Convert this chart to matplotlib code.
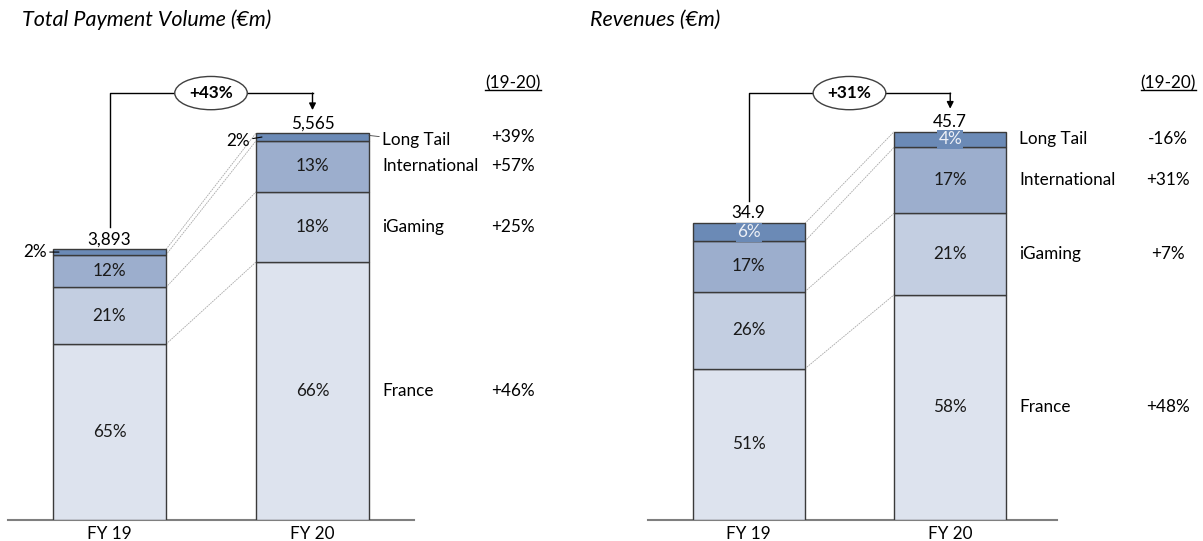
import numpy as np
import matplotlib.pyplot as plt
from matplotlib.lines import Line2D

plt.rcParams['font.family'] = ['Lato', 'DejaVu Sans']

# ---- data ----
years = ["FY 19", "FY 20"]
segments = ["France", "iGaming", "International", "Long Tail"]
seg_colors = ["#dde3ee", "#c3cee1", "#9caecd", "#6b8ab6"]

tpv_totals = [3893, 5565]
tpv_shares = [[65, 21, 12, 2], [66, 18, 13, 2]]
tpv_growth = ["+46%", "+25%", "+57%", "+39%"]
tpv_change = "+43%"

rev_totals = [34.9, 45.7]
rev_shares = [[51, 26, 17, 6], [58, 21, 17, 4]]
rev_growth = ["+48%", "+7%", "+31%", "-16%"]
rev_change = "+31%"

PT = 0.72  # points per pixel at dpi 100
FS = 12.3


def draw_panel(ax, totals, shares, growth, change, fmt, ymax, tail_outside, growth_dx):
    x = np.arange(2)
    w = 0.557
    ax.set_xlim(-0.5, 1.5 if tail_outside else 1.53)
    ax.set_ylim(0, ymax)
    px = ymax / 520.0

    bottoms = np.zeros(2)
    bounds = []
    for i, seg in enumerate(segments):
        vals = np.array([totals[j] * shares[j][i] / sum(shares[j]) for j in range(2)])
        ax.bar(x, vals, w, bottom=bottoms, color=seg_colors[i],
               edgecolor="#3a3a3a", linewidth=1, zorder=3)
        centers = bottoms + vals / 2
        for j in range(2):
            lab = f"{shares[j][i]}%"
            if i == 3 and tail_outside:
                dy = 0 if j == 0 else -4
                ax.annotate(lab, xy=(x[j] - w / 2 + 6 * w / 113, centers[j]),
                            xytext=(-12 * PT, dy * PT), textcoords="offset points",
                            ha="right", va="center", fontsize=FS, zorder=5,
                            arrowprops=dict(arrowstyle="-", lw=0.8, color="black",
                                            shrinkA=0, shrinkB=0))
            elif i == 3:
                ax.text(x[j], centers[j], lab, ha="center", va="center",
                        fontsize=FS, color="#eef1f7", zorder=5,
                        bbox=dict(boxstyle="square,pad=0.08", fc=seg_colors[i], ec="none"))
            else:
                ax.text(x[j], centers[j], lab, ha="center", va="center",
                        fontsize=FS, color="#1a1a1a", zorder=5)
        # segment names and growth to the right of FY20
        if i == 3 and tail_outside:
            ax.annotate(seg, xy=(x[1] + w / 2, bottoms[1] + vals[1] * 0.7),
                        xytext=(13 * PT, -5 * PT), textcoords="offset points",
                        ha="left", va="center", fontsize=FS,
                        arrowprops=dict(arrowstyle="-", lw=0.6, color="#404040",
                                        shrinkA=0, shrinkB=0))
        else:
            ax.annotate(seg, xy=(x[1] + w / 2, centers[1]),
                        xytext=(13 * PT, 0), textcoords="offset points",
                        ha="left", va="center", fontsize=FS)
        ax.annotate(growth[i], xy=(x[1] + w / 2, centers[1]),
                    xytext=(growth_dx * PT, 0), textcoords="offset points",
                    ha="center", va="center", fontsize=FS)
        bottoms = bottoms + vals
        bounds.append(bottoms.copy())

    period = ax.annotate("(19-20)", xy=(x[1] + w / 2, ymax * 0.84), xytext=(growth_dx * PT, 0),
                         textcoords="offset points", ha="center", va="center", fontsize=FS)

    # connectors between bars
    for b in bounds:
        ax.plot([x[0] + w / 2, x[1] - w / 2], [b[0], b[1]], color="#a8a8a8",
                lw=0.6, ls=(0, (2, 1)), zorder=1)

    # totals
    for j in range(2):
        ax.annotate(fmt(totals[j]), xy=(x[j], totals[j]), xytext=(0, 2 * PT),
                    textcoords="offset points", ha="center", va="bottom", fontsize=FS)

    # growth bracket
    yb = ymax * 0.821
    ax.plot([x[0], x[0], x[1]], [totals[0] + 22 * px, yb, yb], color="black", lw=1, zorder=2)
    ax.annotate("", xy=(x[1], totals[1] + 23 * px), xytext=(x[1], yb),
                arrowprops=dict(arrowstyle="-|>", color="black", lw=1,
                                mutation_scale=10, shrinkA=0, shrinkB=0))
    ax.text(0.5, yb, change, ha="center", va="center", fontsize=FS, fontweight="bold",
            bbox=dict(boxstyle="ellipse,pad=0.22", fc="white", ec="#404040", lw=1), zorder=6)

    for s in ["top", "left", "right"]:
        ax.spines[s].set_visible(False)
    ax.spines["bottom"].set_color("#7f7f7f")
    ax.spines["bottom"].set_linewidth(1.5)
    ax.set_yticks([])
    ax.set_xticks(x, years)
    ax.tick_params(axis="x", length=0, pad=4, labelsize=FS)
    return period


fig = plt.figure(figsize=(12.03, 5.41), dpi=100)
ax1 = fig.add_axes([8 / 1203, 21 / 541, 406 / 1203, 520 / 541])
ax2 = fig.add_axes([648 / 1203, 21 / 541, 409 / 1203, 520 / 541])
ax1.patch.set_alpha(0)
ax2.patch.set_alpha(0)

p1 = draw_panel(ax1, tpv_totals, tpv_shares, tpv_growth, tpv_change,
                lambda v: f"{v:,.0f}", 7480, True, 144)
p2 = draw_panel(ax2, rev_totals, rev_shares, rev_growth, rev_change,
                lambda v: f"{v:.1f}", 61.2, False, 162)

fig.text(22 / 1203, 1 - 20 / 541, "Total Payment Volume (€m)", fontsize=15.5,
         style="italic", ha="left", va="center")
fig.text(590 / 1203, 1 - 20 / 541, "Revenues (€m)", fontsize=15.5,
         style="italic", ha="left", va="center")

# underline the (19-20) headers
renderer = fig.canvas.get_renderer()
inv = fig.transFigure.inverted()
for t in [p1, p2]:
    bb = t.get_window_extent(renderer)
    (x0, y0), (x1, _) = inv.transform([(bb.x0, bb.y0 + 1), (bb.x1, bb.y0)])
    fig.add_artist(Line2D([x0, x1], [y0, y0], transform=fig.transFigure,
                          color="black", lw=1))

fig.savefig("out.png", dpi=100)
